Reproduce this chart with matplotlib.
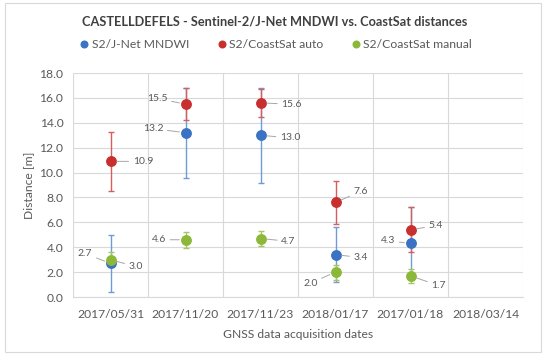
import numpy as np
import matplotlib
matplotlib.use("Agg")
import matplotlib.pyplot as plt
from matplotlib.patches import Rectangle

plt.rcParams['font.family'] = ['Lato', 'DejaVu Sans']

dates = ['2017/05/31', '2017/11/20', '2017/11/23', '2018/01/17', '2017/01/18', '2018/03/14']

jnet = [2.7, 13.2, 13.0, 3.4, 4.3, None]
jnet_err = [2.3, 3.6, 3.8, 2.2, 2.9, None]
auto = [10.9, 15.5, 15.6, 7.6, 5.4, None]
auto_err = [2.35, 1.3, 1.15, 1.7, 1.8, None]
manual = [3.0, 4.6, 4.7, 2.0, 1.7, None]
manual_err = [0.6, 0.65, 0.6, 0.6, 0.55, None]

# label offsets (points)
jnet_off = [(-13, 7), (-16, 3), (14, -2), (13, -2), (-11, 2)]
auto_off = [(16, 0), (-13, 4), (15, -1), (13, 8), (13, 3)]
manual_off = [(13, -5), (-14, 0), (15, -2), (-13, -8), (15, -7)]

series = [
    ('S2/J-Net MNDWI', jnet, jnet_err, '#3a72c4', '#6f9bd6', jnet_off),
    ('S2/CoastSat auto', auto, auto_err, '#c7302f', '#d45f5f', auto_off),
    ('S2/CoastSat manual', manual, manual_err, '#8cb83a', '#a6c660', manual_off),
]

fig = plt.figure(figsize=(5.5, 3.57), dpi=100)
ax = fig.add_axes([73 / 550, 1 - 297 / 357, 450 / 550, 224 / 357])

x = np.arange(len(dates))
txtc = '#595959'
for name, vals, errs, col, ecol, offs in series:
    xi = [i for i, v in enumerate(vals) if v is not None]
    yv = [vals[i] for i in xi]
    ye = [errs[i] for i in xi]
    ax.errorbar(xi, yv, yerr=ye, fmt='none', ecolor=ecol, elinewidth=1.0,
                capsize=2.5, capthick=1.0, zorder=3)
    ax.plot(xi, yv, 'o', color=col, markersize=6.8, markeredgecolor=col,
            label=name, zorder=4)
    for i, v in zip(xi, yv):
        dx, dy = offs[i]
        ax.annotate('%.1f' % v, (i, v), xytext=(dx, dy), textcoords='offset points',
                    ha='left' if dx > 0 else 'right', va='center', fontsize=7.5,
                    color=txtc, zorder=5,
                    arrowprops=dict(arrowstyle='-', color='#a6a6a6', lw=0.7,
                                    shrinkA=1, shrinkB=4.5))

ax.set_xlim(-0.5, len(dates) - 0.5)
ax.set_ylim(0, 18)
ax.set_yticks(np.arange(0, 18.1, 2))
ax.set_yticklabels(['%.1f' % t for t in np.arange(0, 18.1, 2)])
ax.set_xticks(x)
ax.set_xticklabels(dates)
ax.set_xticks(np.arange(-0.5, len(dates)), minor=True)
ax.grid(True, axis='y', color='#d9d9d9', lw=0.8)
ax.grid(True, axis='x', which='minor', color='#d9d9d9', lw=0.8)
ax.tick_params(which='both', length=0, colors=txtc, labelsize=8.7)
ax.tick_params(axis='x', pad=9)
ax.tick_params(axis='y', pad=7)
for s in ax.spines.values():
    s.set_visible(False)
ax.spines['bottom'].set_visible(True)
ax.spines['bottom'].set_color('#d9d9d9')
ax.set_axisbelow(True)

ax.set_ylabel('Distance [m]', color=txtc, fontsize=8.7)
ax.set_xlabel('GNSS data acquisition dates', color=txtc, fontsize=8.7, labelpad=6)

fig.text(0.5, 1 - 21 / 357, 'CASTELLDEFELS - Sentinel-2/J-Net MNDWI vs. CoastSat distances',
         ha='center', va='center', fontsize=9.2, fontweight='bold', color='#404040')
leg = ax.legend(loc='center', bbox_to_anchor=(0.5, 1 - 45 / 357), bbox_transform=fig.transFigure,
                ncol=3, frameon=False, fontsize=8.7, markerscale=0.7, handletextpad=0.1,
                columnspacing=2.2, handlelength=1)
for t in leg.get_texts():
    t.set_color(txtc)

fig.patches.append(Rectangle((5 / 550, 1 - 352 / 357), 536 / 550, 349 / 357,
                             transform=fig.transFigure, fill=False,
                             edgecolor='#d9d9d9', lw=0.8))

fig.savefig('out.png', dpi=100)
